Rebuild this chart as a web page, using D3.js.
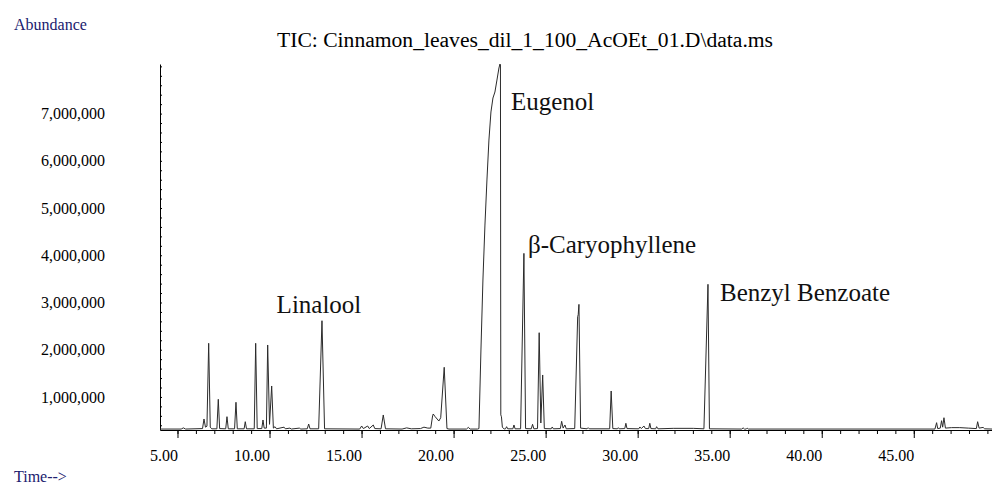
<!DOCTYPE html>
<html>
<head>
<meta charset="utf-8">
<script src="https://cdn.jsdelivr.net/npm/d3@7"></script>
<style>
  body { margin: 0; background: #fff; }
  svg { display: block; }
  svg text { font-family: 'Liberation Serif', 'DejaVu Serif', serif; }
</style>
</head>
<body>
<div id="chart"></div>
<script>
// TIC trace: [retention time (min), abundance]
const ticTrace = [
    [4.05, 320000], [5.20, 320000], [5.32, 345000], [5.44, 320000],
    [6.36, 330000], [6.44, 533000], [6.52, 360000], [6.60, 380000], [6.695, 2136000], [6.78, 360000], [6.86, 325000],
    [7.14, 325000], [7.217, 950000], [7.29, 330000],
    [7.62, 325000], [7.689, 582000], [7.76, 325000],
    [8.10, 325000], [8.178, 887000], [8.25, 325000],
    [8.62, 325000], [8.683, 476000], [8.75, 325000],
    [9.17, 325000], [9.248, 2136000], [9.33, 330000],
    [9.58, 330000], [9.645, 512000], [9.71, 340000],
    [9.83, 340000], [9.90, 2100000], [10.00, 420000], [10.117, 1232000], [10.21, 340000],
    [10.30, 370000], [10.38, 325000], [10.79, 360000], [10.86, 325000], [11.11, 340000], [11.18, 320000],
    [11.62, 340000], [11.70, 320000],
    [12.05, 325000], [12.127, 427000], [12.20, 325000],
    [12.67, 325000], [12.85, 2614000], [12.99, 325000],
    [14.90, 320000], [15.006, 385000], [15.10, 330000], [15.33, 385000], [15.42, 330000],
    [15.636, 406000], [15.72, 330000],
    [16.06, 325000], [16.18, 618000], [16.30, 325000],
    [17.20, 320000], [17.45, 345000], [17.70, 325000], [18.20, 330000], [18.39, 360000], [18.60, 340000],
    [18.76, 340000], [18.86, 600000], [18.895, 639000], [18.98, 590000], [19.20, 490000], [19.30, 560000],
    [19.49, 1628000], [19.64, 330000], [19.75, 320000],
    [20.70, 320000], [20.80, 355000], [20.90, 320000],
    [21.30, 320000], [21.377, 330000], [21.486, 1994000], [21.594, 3476000], [21.703, 4640000],
    [21.812, 5594000], [21.920, 6440000], [22.029, 7034000], [22.138, 7330000], [22.246, 7457000],
    [22.355, 7710000], [22.464, 7965000], [22.518, 8050000], [22.545, 8030000], [22.565, 620000],
    [22.60, 580000], [22.65, 360000], [22.75, 320000],
    [22.82, 325000], [22.88, 370000], [22.94, 325000], [23.22, 325000], [23.28, 406000], [23.34, 325000],
    [23.64, 325000], [23.82, 4040000], [23.91, 330000],
    [24.22, 325000], [24.29, 421000], [24.36, 325000],
    [24.56, 330000], [24.65, 2360000], [24.74, 448000], [24.84, 1465000], [24.93, 330000],
    [25.30, 325000], [25.36, 364000], [25.42, 325000], [25.80, 330000], [25.87, 484000], [25.95, 340000],
    [26.05, 406000], [26.12, 325000],
    [26.58, 330000], [26.74, 2700000], [26.77, 2740000], [26.81, 2960000], [26.90, 340000],
    [27.25, 325000], [27.31, 349000], [27.37, 325000],
    [28.48, 325000], [28.56, 1126000], [28.65, 330000],
    [28.90, 325000], [28.95, 349000], [29.00, 325000], [29.30, 330000], [29.36, 442000], [29.42, 330000],
    [30.06, 325000], [30.12, 364000], [30.20, 330000], [30.34, 385000], [30.42, 330000],
    [30.60, 330000], [30.66, 442000], [30.72, 330000], [30.98, 325000], [31.03, 370000], [31.10, 325000],
    [31.93, 335000], [33.02, 335000],
    [33.60, 325000], [33.82, 3385000], [33.90, 325000],
    [35.65, 320000], [35.73, 345000], [35.80, 320000], [35.90, 320000], [35.95, 340000], [36.02, 320000],
    [46.15, 320000], [46.24, 455000], [46.30, 330000], [46.44, 340000], [46.51, 497000], [46.57, 360000],
    [46.64, 560000], [46.72, 340000], [47.05, 350000], [47.50, 350000], [47.96, 340000],
    [48.40, 330000], [48.47, 476000], [48.55, 340000], [48.77, 355000], [48.85, 325000], [49.25, 320000]
];

const yLabelValues = [1000000, 2000000, 3000000, 4000000, 5000000, 6000000, 7000000];
const xLabelValues = [5, 10, 15, 20, 25, 30, 35, 40, 45];
const peakNames = ['Linalool', 'Eugenol', 'β-Caryophyllene', 'Benzyl Benzoate'];
const peakTimes = [12.85, 22.518, 23.82, 33.82];

const title = 'TIC: Cinnamon_leaves_dil_1_100_AcOEt_01.D\\data.ms';

drawChart();

function drawChart() {
    const width = 992;
    const height = 486;
    const navy = '#20206e';

    const svg = d3.select('#chart')
        .append('svg')
        .attr('width', width)
        .attr('height', height);

    // scales - axis runs from the y line to the right edge of the picture
    const x = d3.scaleLinear().domain([4.05, 49.25]).range([160, 992]);
    const y = d3.scaleLinear().domain([300000, 8050000]).range([430, 64]);

    // corner labels
    svg.append('text')
        .attr('x', 14).attr('y', 30)
        .style('font-size', '16px')
        .attr('fill', navy)
        .text('Abundance');

    svg.append('text')
        .attr('x', 14).attr('y', 482)
        .style('font-size', '16px')
        .attr('fill', navy)
        .text('Time-->');

    svg.append('text')
        .attr('x', 525).attr('y', 47)
        .attr('text-anchor', 'middle')
        .style('font-size', '21.6px')
        .attr('fill', '#000')
        .text(title);

    // x axis: minor ticks every minute, longer ones with labels every 5 min
    const minorX = d3.range(5, 50);
    svg.append('g')
        .attr('transform', 'translate(0,430)')
        .call(d3.axisBottom(x).tickValues(minorX).tickSize(4).tickFormat(''))
        .call(g => g.select('.domain').remove());

    const xAxis = svg.append('g')
        .attr('transform', 'translate(0,430)')
        .call(d3.axisBottom(x).tickValues(xLabelValues).tickSize(8).tickSizeOuter(0).tickFormat(d3.format('.2f')));
    xAxis.attr('font-family', null);
    xAxis.select('.domain').attr('stroke', '#000');
    xAxis.selectAll('text')
        .attr('text-anchor', 'end')
        .attr('dy', 0)
        .attr('y', 31)
        .style('font-size', '16px')
        .attr('fill', '#000');

    // y axis: small inward ticks and labels set well left of the line
    const minorY = d3.range(400000, 8050000, 200000);
    svg.append('g')
        .attr('transform', 'translate(160,0)')
        .call(d3.axisRight(y).tickValues(minorY).tickSize(2).tickFormat(''))
        .call(g => g.select('.domain').remove());

    const yAxis = svg.append('g')
        .attr('transform', 'translate(160,0)')
        .call(d3.axisLeft(y).tickValues(yLabelValues).tickSize(0).tickPadding(55).tickSizeOuter(0)
            .tickFormat(d3.format(',')));
    yAxis.attr('font-family', null);
    yAxis.select('.domain').attr('stroke', '#000');
    yAxis.selectAll('text')
        .style('font-size', '16px')
        .attr('fill', '#000');

    // chromatogram trace
    const line = d3.line()
        .x(d => x(d[0]))
        .y(d => y(d[1]));

    svg.append('path')
        .datum(ticTrace)
        .attr('d', line)
        .attr('fill', 'none')
        .attr('stroke', '#2b2b2b')
        .attr('stroke-width', 1)
        .attr('stroke-linejoin', 'round');

    // peak annotations, offset from each apex in pixels
    const labelOffsets = [
        { dx: -3, y: 313, anchor: 'middle' },
        { dx: 11, y: 110, anchor: 'start' },
        { dx: 4, y: 253, anchor: 'start' },
        { dx: 12, y: 301, anchor: 'start' }
    ];

    svg.append('g')
        .selectAll('text')
        .data(peakNames)
        .join('text')
        .attr('x', (d, i) => x(peakTimes[i]) + labelOffsets[i].dx)
        .attr('y', (d, i) => labelOffsets[i].y)
        .attr('text-anchor', (d, i) => labelOffsets[i].anchor)
        .style('font-size', '25px')
        .attr('fill', '#111')
        .text(d => d);
}
</script>
</body>
</html>
